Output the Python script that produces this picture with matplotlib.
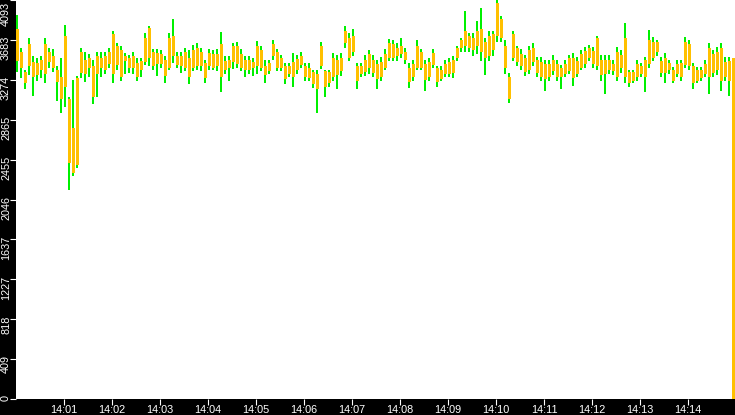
import matplotlib
matplotlib.use("Agg")
import matplotlib.pyplot as plt
import matplotlib.transforms as mtrans
import numpy as np

# one bar every 5 seconds from 14:00:00 to 14:15:00
bar_seconds = 5

green_hi = [3940, 3600, 3380, 3700, 3520, 3500, 3520, 3700, 3600, 3590,
            3420, 3500, 3840, 3100, 3270, 3310, 3600, 3560, 3540, 3480,
            3560, 3560, 3560, 3600, 3780, 3650, 3620, 3550, 3530, 3560,
            3500, 3500, 3750, 3830, 3590, 3590, 3580, 3520, 3750, 3900,
            3560, 3560, 3600, 3580, 3630, 3650, 3600, 3480, 3590, 3580,
            3590, 3760, 3520, 3520, 3650, 3660, 3590, 3520, 3520, 3500,
            3670, 3620, 3480, 3480, 3680, 3590, 3530, 3450, 3450, 3550,
            3530, 3560, 3450, 3450, 3380, 3370, 3660, 3380, 3380, 3550,
            3530, 3550, 3830, 3750, 3800, 3450, 3450, 3530, 3580, 3530,
            3480, 3510, 3590, 3690, 3680, 3650, 3700, 3600, 3450, 3480,
            3680, 3590, 3480, 3500, 3590, 3420, 3420, 3480, 3500, 3520,
            3620, 3700, 3980, 3750, 3750, 3880, 4010, 3700, 3780, 3780,
            4093, 3930, 3680, 3340, 3780, 3620, 3590, 3530, 3620, 3650,
            3510, 3510, 3480, 3480, 3530, 3480, 3430, 3480, 3530, 3550,
            3510, 3580, 3610, 3630, 3610, 3720, 3530, 3530, 3530, 3480,
            3610, 3580, 3860, 3380, 3380, 3480, 3450, 3510, 3790, 3710,
            3680, 3510, 3550, 3480, 3410, 3480, 3480, 3710, 3680, 3450,
            3410, 3410, 3480, 3650, 3580, 3610, 3650, 3510, 3510, 1800]

green_lo = [3350, 3290, 3180, 3320, 3110, 3260, 3290, 3240, 3400, 3350,
            3060, 2930, 3000, 2140, 2290, 2370, 3290, 3250, 3300, 3030,
            3100, 3300, 3330, 3400, 3240, 3380, 3260, 3330, 3340, 3330,
            3260, 3300, 3430, 3420, 3380, 3310, 3400, 3240, 3370, 3450,
            3400, 3340, 3360, 3230, 3360, 3370, 3360, 3240, 3370, 3370,
            3360, 3150, 3330, 3260, 3390, 3400, 3360, 3300, 3330, 3310,
            3330, 3360, 3240, 3330, 3480, 3360, 3360, 3230, 3300, 3200,
            3330, 3400, 3260, 3260, 3190, 2930, 3390, 3100, 3200, 3260,
            3180, 3310, 3600, 3470, 3520, 3180, 3300, 3310, 3330, 3300,
            3180, 3260, 3370, 3470, 3470, 3470, 3500, 3440, 3190, 3260,
            3370, 3370, 3160, 3260, 3400, 3200, 3260, 3300, 3300, 3290,
            3470, 3560, 3560, 3560, 3520, 3540, 3470, 3320, 3470, 3520,
            3660, 3660, 3330, 3040, 3470, 3420, 3370, 3310, 3330, 3420,
            3300, 3260, 3160, 3260, 3320, 3260, 3180, 3300, 3330, 3210,
            3300, 3370, 3400, 3470, 3400, 3370, 3260, 3130, 3330, 3320,
            3260, 3340, 3240, 3200, 3240, 3260, 3300, 3150, 3400, 3470,
            3520, 3300, 3240, 3330, 3240, 3300, 3260, 3400, 3370, 3180,
            3240, 3260, 3300, 3130, 3300, 3320, 3160, 3260, 3110, 1720]

gold_open = [3800, 3560, 3350, 3640, 3460, 3450, 3380, 3640, 3460, 3520,
             3380, 3300, 3720, 3080, 2780, 3290, 3560, 3480, 3400, 3420,
             3520, 3400, 3520, 3440, 3740, 3620, 3580, 3470, 3400, 3520,
             3450, 3380, 3460, 3810, 3560, 3440, 3540, 3480, 3400, 3720,
             3520, 3420, 3560, 3500, 3400, 3600, 3420, 3450, 3420, 3540,
             3420, 3640, 3470, 3400, 3460, 3620, 3540, 3380, 3480, 3400,
             3420, 3580, 3420, 3360, 3520, 3560, 3400, 3420, 3330, 3460,
             3380, 3520, 3420, 3290, 3350, 3330, 3420, 3360, 3240, 3500,
             3320, 3500, 3650, 3700, 3560, 3420, 3330, 3480, 3400, 3480,
             3440, 3300, 3540, 3500, 3640, 3520, 3620, 3560, 3400, 3300,
             3400, 3560, 3440, 3300, 3550, 3400, 3280, 3330, 3460, 3340,
             3500, 3600, 3780, 3720, 3580, 3620, 3800, 3660, 3520, 3740,
             3720, 3900, 3620, 3300, 3500, 3600, 3420, 3500, 3380, 3600,
             3480, 3300, 3440, 3300, 3480, 3440, 3300, 3440, 3360, 3500,
             3330, 3540, 3440, 3600, 3440, 3700, 3320, 3480, 3380, 3440,
             3560, 3400, 3700, 3350, 3260, 3440, 3330, 3480, 3440, 3660,
             3560, 3470, 3340, 3450, 3260, 3440, 3300, 3430, 3640, 3420,
             3260, 3380, 3330, 3600, 3340, 3560, 3600, 3300, 3470, 3500]

gold_close = [3470, 3400, 3240, 3420, 3300, 3320, 3480, 3330, 3560, 3400,
              3250, 3080, 3200, 2420, 2320, 2400, 3340, 3330, 3500, 3100,
              3330, 3500, 3380, 3560, 3330, 3430, 3300, 3520, 3500, 3400,
              3300, 3470, 3700, 3500, 3420, 3550, 3440, 3310, 3700, 3520,
              3430, 3520, 3400, 3300, 3580, 3420, 3560, 3290, 3550, 3400,
              3540, 3300, 3370, 3480, 3620, 3440, 3400, 3480, 3380, 3460,
              3620, 3400, 3320, 3450, 3640, 3400, 3500, 3280, 3420, 3300,
              3490, 3430, 3300, 3400, 3230, 3180, 3620, 3200, 3350, 3300,
              3480, 3360, 3780, 3500, 3720, 3260, 3420, 3350, 3540, 3340,
              3280, 3460, 3400, 3650, 3500, 3600, 3540, 3480, 3250, 3440,
              3620, 3400, 3270, 3460, 3430, 3250, 3380, 3440, 3330, 3480,
              3600, 3680, 3620, 3600, 3700, 3780, 3560, 3500, 3720, 3580,
              4060, 3700, 3400, 3080, 3740, 3460, 3540, 3350, 3580, 3460,
              3340, 3460, 3280, 3440, 3360, 3300, 3400, 3330, 3500, 3290,
              3470, 3400, 3570, 3500, 3570, 3420, 3480, 3330, 3480, 3360,
              3300, 3530, 3300, 3240, 3350, 3300, 3420, 3300, 3680, 3500,
              3660, 3340, 3500, 3370, 3380, 3330, 3450, 3660, 3420, 3240,
              3380, 3290, 3440, 3300, 3540, 3380, 3260, 3460, 3260, 0]

y_ticks = [0, 409, 818, 1227, 1637, 2046, 2455, 2865, 3274, 3683, 4093]
x_minutes = list(range(1, 15))
x_labels = ["14:%02d" % m for m in x_minutes]

GREEN = "#00f000"
GOLD = "#ffc000"
FONT = "Liberation Sans"

fig = plt.figure(figsize=(7.35, 4.15), dpi=100, facecolor="black")
# 720 px wide so one 5 s bar is exactly 4 px (last px falls off the edge)
ax = fig.add_axes([16 / 735, 16 / 415, 720 / 735, 399 / 415])
ax.set_facecolor("white")
for sp in ax.spines.values():
    sp.set_visible(False)

t = np.arange(len(green_hi)) * bar_seconds + bar_seconds / 2
g_lo = np.array(green_lo)
g_hi = np.array(green_hi)
body_lo = np.minimum(gold_open, gold_close)
body_hi = np.maximum(gold_open, gold_close)

# green range behind (2 px), gold body on top (3 px), 1 px gap per 4 px cell
ax.bar(t - 1.25, g_hi - g_lo, bottom=g_lo, width=2.5, color=GREEN, linewidth=0)
ax.bar(t - 0.625, body_hi - body_lo, bottom=body_lo, width=3.75, color=GOLD, linewidth=0)

ax.set_xlim(0, 900)
ax.set_ylim(0, 4093)

ax.set_xticks([m * 60 for m in x_minutes])
ax.set_xticklabels(x_labels, fontfamily=FONT)
ax.tick_params(axis="x", colors="white", length=4.3, width=0.8, pad=0.2, labelsize=7.8)
ax.set_yticks(y_ticks)
ax.tick_params(axis="y", colors="white", length=4.3, width=0.8, labelleft=False)

# y labels: rotated, ending a few px above each tick
base = mtrans.blended_transform_factory(fig.transFigure, ax.transData)
lab_tr = mtrans.offset_copy(base, fig=fig, x=0, y=4, units="dots")
for v in y_ticks:
    if v == y_ticks[-1]:
        fig.text(6 / 735, 1 - 2 / 415, str(v), rotation=90, rotation_mode="anchor",
                 ha="right", va="center", color="white", fontsize=7.8, fontfamily=FONT)
    else:
        ax.text(6 / 735, v, str(v), transform=lab_tr, rotation=90, rotation_mode="anchor",
                ha="right", va="center", color="white", fontsize=7.8, fontfamily=FONT,
                clip_on=False)

fig.savefig("out.png", dpi=100, facecolor="black")
